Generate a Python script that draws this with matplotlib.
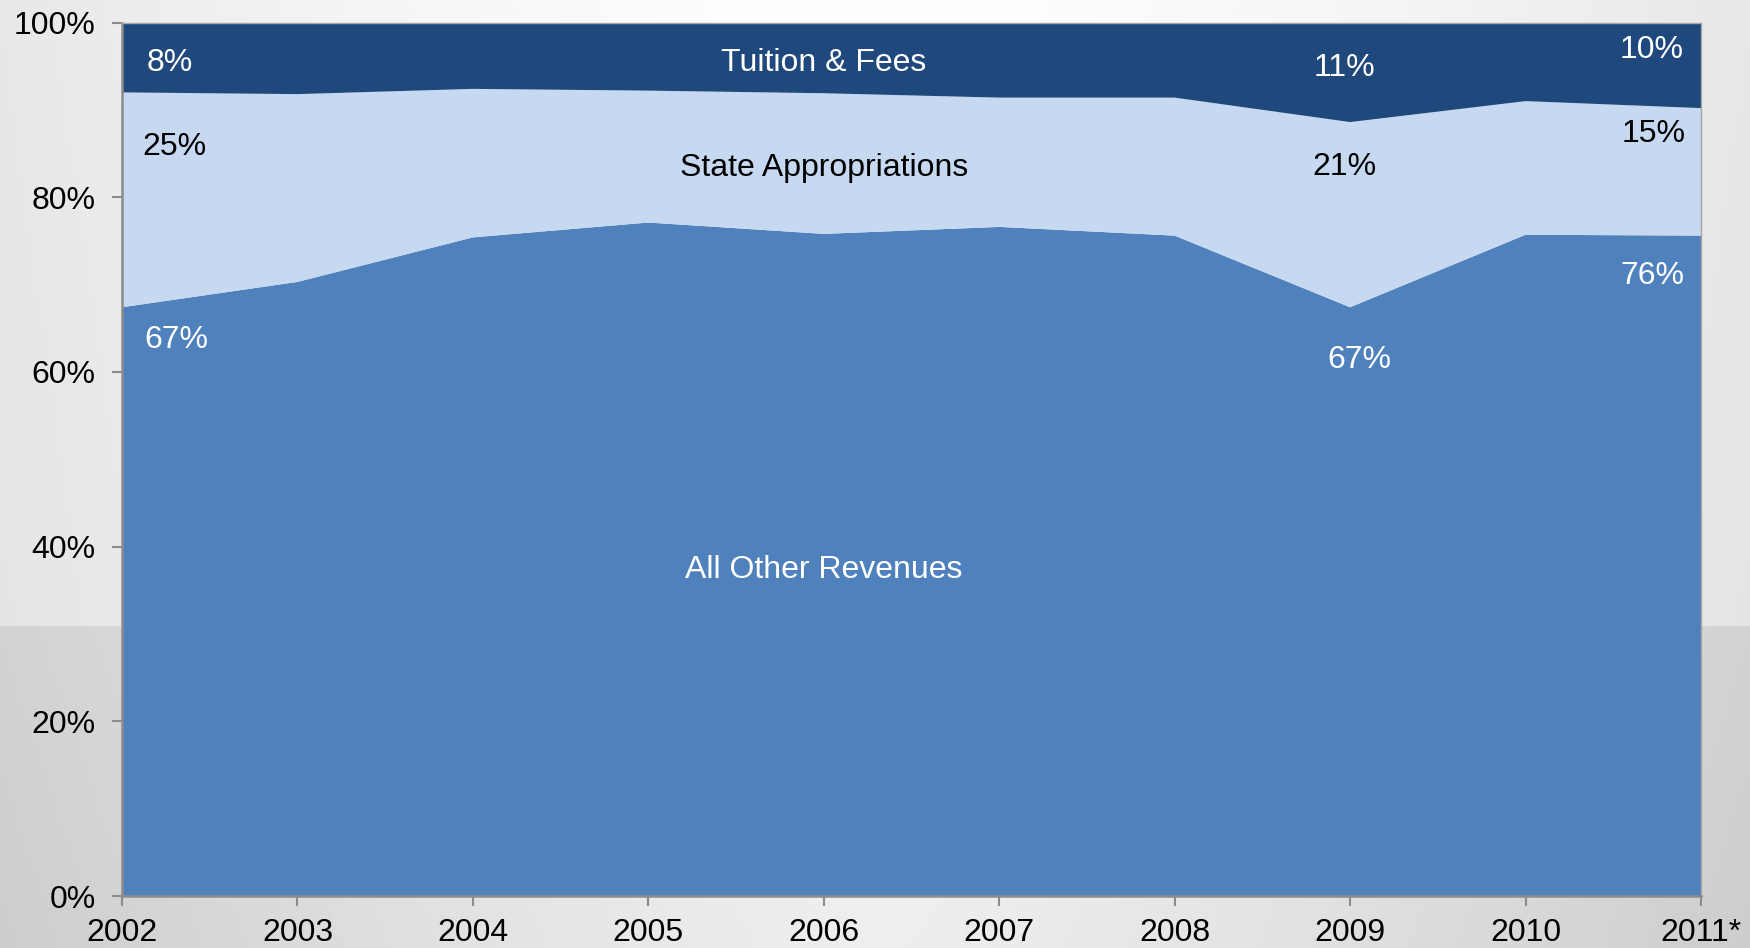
import numpy as np
import matplotlib
matplotlib.use("Agg")
import matplotlib.pyplot as plt
from matplotlib.ticker import FuncFormatter

plt.rcParams['font.family'] = ['Liberation Sans', 'DejaVu Sans']

years = [2002, 2003, 2004, 2005, 2006, 2007, 2008, 2009, 2010, 2011]
year_labels = ["2002", "2003", "2004", "2005", "2006", "2007", "2008", "2009", "2010", "2011*"]
other_rev = [67.4, 70.3, 75.4, 77.1, 75.8, 76.6, 75.6, 67.4, 75.7, 75.6]
state_app = [24.6, 21.5, 17.0, 15.1, 16.1, 14.8, 15.8, 21.2, 15.3, 14.6]
tuition = [round(100 - o - s, 1) for o, s in zip(other_rev, state_app)]
yticks = [0, 20, 40, 60, 80, 100]

c_other = "#4F81BD"
c_state = "#C6D9F0"
c_tuition = "#1F497D"

W, H = 1750, 948
fig = plt.figure(figsize=(W / 100, H / 100), dpi=100)

# slide-like background
bg = fig.add_axes([0, 0, 1, 1], zorder=-10)
bg.set_axis_off()
xx = np.linspace(-1, 1, 400)
yy = np.linspace(0, 1, 300)
X, Y = np.meshgrid(xx, yy)
split = 627 / H
top = 1.0 - 0.09 * np.abs(X) ** 1.5 - 0.02 * Y
bot = 0.955 - 0.13 * np.abs(X) ** 1.3 - 0.02 * (Y - split) / (1 - split)
img = np.where(Y < split, top, bot)
img = np.clip(img, 0, 1)
bg.imshow(np.dstack([img, img, img]), extent=[0, 1, 1, 0], aspect='auto', origin='upper')
bg.set_xlim(0, 1)
bg.set_ylim(1, 0)

ax = fig.add_axes([122 / W, 1 - 896 / H, (1701 - 122) / W, (896 - 22.5) / H])
ax.patch.set_alpha(0)

ax.stackplot(years, other_rev, state_app, tuition,
             colors=[c_other, c_state, c_tuition], linewidth=0)

ax.set_xlim(years[0], years[-1])
ax.set_ylim(0, 100)
ax.set_xticks(years)
ax.set_xticklabels(year_labels)
ax.set_yticks(yticks)
ax.yaxis.set_major_formatter(FuncFormatter(lambda v, p: f"{int(v)}%"))

for side in ['left', 'bottom']:
    ax.spines[side].set_color('#8c8c8c')
    ax.spines[side].set_linewidth(1.8)
for side in ['top', 'right']:
    ax.spines[side].set_color('#a6a6a6')
    ax.spines[side].set_linewidth(1.0)

ax.tick_params(axis='y', length=7, width=1.5, color='#8c8c8c', labelsize=23, pad=12, direction='out')
ax.tick_params(axis='x', length=7, width=1.5, color='#8c8c8c', labelsize=23, pad=9, direction='out')

fs = 23
ann = [
    (2002.27, 95.4, "8%", 'white'),
    (2002.30, 85.8, "25%", 'black'),
    (2002.31, 63.6, "67%", 'white'),
    (2006.0, 95.4, "Tuition & Fees", 'white'),
    (2006.0, 83.3, "State Appropriations", 'black'),
    (2006.0, 37.3, "All Other Revenues", 'white'),
    (2008.97, 94.8, "11%", 'white'),
    (2008.97, 83.5, "21%", 'black'),
    (2009.05, 61.4, "67%", 'white'),
    (2010.72, 96.8, "10%", 'white'),
    (2010.73, 87.2, "15%", 'black'),
    (2010.72, 71.0, "76%", 'white'),
]
for x, y, t, c in ann:
    ax.text(x, y, t, color=c, fontsize=fs, ha='center', va='center')

fig.savefig("out.png", dpi=100)
